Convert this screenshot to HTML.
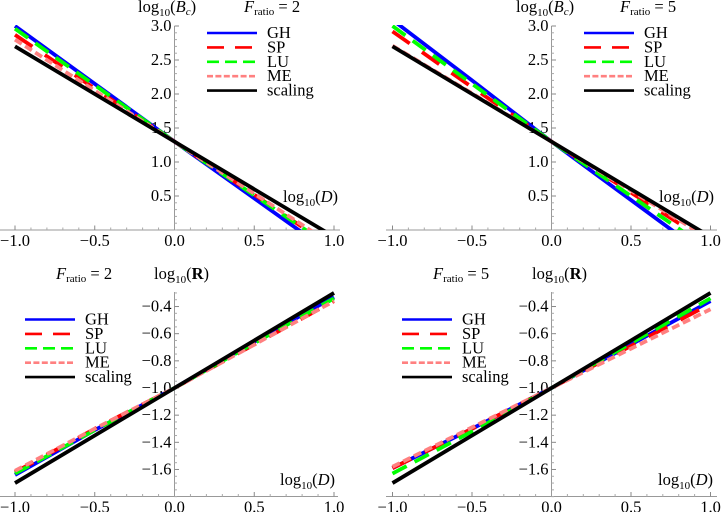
<!DOCTYPE html>
<html>
<head>
<meta charset="utf-8">
<title>Scaling comparison chart</title>
<style>
html,body{margin:0;padding:0;background:#fff;}
svg{display:block;}
text{font-family:"Liberation Serif",serif;font-size:16.5px;fill:#000;}
.sub{font-size:11px;}
.it{font-style:italic;}
.bf{font-weight:bold;}
</style>
</head>
<body>
<svg id="chart" xmlns="http://www.w3.org/2000/svg" width="721" height="512" viewBox="0 0 721 512">
  <g>
    <text x="138" y="12">log<tspan class="sub" dy="4">10</tspan><tspan dy="-4">(</tspan><tspan class="it">B</tspan><tspan class="it sub" dy="3">c</tspan><tspan dy="-3">)</tspan></text>
    <text x="244" y="12"><tspan class="it">F</tspan><tspan class="sub" dy="3">ratio</tspan><tspan dy="-3"> = 2</tspan></text>
    <text x="283" y="202">log<tspan class="sub" dy="4">10</tspan><tspan dy="-4">(</tspan><tspan class="it">D</tspan>)</text>
  </g>
  <g>
    <text x="516" y="12">log<tspan class="sub" dy="4">10</tspan><tspan dy="-4">(</tspan><tspan class="it">B</tspan><tspan class="it sub" dy="3">c</tspan><tspan dy="-3">)</tspan></text>
    <text x="620" y="12"><tspan class="it">F</tspan><tspan class="sub" dy="3">ratio</tspan><tspan dy="-3"> = 5</tspan></text>
    <text x="659" y="202">log<tspan class="sub" dy="4">10</tspan><tspan dy="-4">(</tspan><tspan class="it">D</tspan>)</text>
  </g>
  <g>
    <text x="56" y="279"><tspan class="it">F</tspan><tspan class="sub" dy="3">ratio</tspan><tspan dy="-3"> = 2</tspan></text>
    <text x="154" y="279">log<tspan class="sub" dy="4">10</tspan><tspan dy="-4">(</tspan><tspan class="bf">R</tspan>)</text>
    <text x="280" y="485">log<tspan class="sub" dy="4">10</tspan><tspan dy="-4">(</tspan><tspan class="it">D</tspan>)</text>
  </g>
  <g>
    <text x="433" y="279"><tspan class="it">F</tspan><tspan class="sub" dy="3">ratio</tspan><tspan dy="-3"> = 5</tspan></text>
    <text x="532" y="279">log<tspan class="sub" dy="4">10</tspan><tspan dy="-4">(</tspan><tspan class="bf">R</tspan>)</text>
    <text x="658" y="485">log<tspan class="sub" dy="4">10</tspan><tspan dy="-4">(</tspan><tspan class="it">D</tspan>)</text>
  </g>
</svg>
<script>
// ---- Data ----
var seriesNames = ["GH", "SP", "LU", "ME", "scaling"];
var logD = [-1, -0.5, 0, 0.5, 1];

var panelA_GH = [3.00, 2.15, 1.30, 0.465, -0.37];
var panelA_SP = [2.87, 2.08, 1.30, 0.52, -0.27];
var panelA_LU = [2.96, 2.13, 1.30, 0.51, -0.28];
var panelA_ME = [2.80, 2.05, 1.30, 0.535, -0.23];
var panelA_scaling = [2.70, 2.00, 1.30, 0.60, -0.10];

var panelB_GH = [3.09, 2.20, 1.30, 0.44, -0.42];
var panelB_SP = [2.92, 2.10, 1.30, 0.55, -0.20];
var panelB_LU = [3.00, 2.15, 1.30, 0.50, -0.30];
var panelB_ME = [2.71, 2.01, 1.30, 0.58, -0.14];
var panelB_scaling = [2.70, 2.00, 1.30, 0.60, -0.10];

var panelC_GH = [-1.64, -1.31, -1.00, -0.66, -0.33];
var panelC_SP = [-1.62, -1.30, -1.00, -0.68, -0.36];
var panelC_LU = [-1.63, -1.31, -1.00, -0.67, -0.34];
var panelC_ME = [-1.61, -1.30, -1.00, -0.68, -0.36];
var panelC_scaling = [-1.70, -1.35, -1.00, -0.65, -0.30];

var panelD_GH = [-1.59, -1.30, -1.00, -0.68, -0.36];
var panelD_SP = [-1.59, -1.30, -1.00, -0.69, -0.38];
var panelD_LU = [-1.63, -1.32, -1.00, -0.67, -0.34];
var panelD_ME = [-1.58, -1.29, -1.00, -0.71, -0.42];
var panelD_scaling = [-1.70, -1.35, -1.00, -0.65, -0.30];

var xTickLabels = ["\u22121.0", "\u22120.5", "0.0", "0.5", "1.0"];
var xTickValues = [-1, -0.5, 0, 0.5, 1];
var yTickValuesTop = [0.5, 1, 1.5, 2, 2.5, 3];
var yTickLabelsTop = ["0.5", "1.0", "1.5", "2.0", "2.5", "3.0"];
var yTickValuesBottom = [-1.6, -1.4, -1.2, -1, -0.8, -0.6, -0.4];
var yTickLabelsBottom = ["\u22121.6", "\u22121.4", "\u22121.2", "\u22121.0", "\u22120.8", "\u22120.6", "\u22120.4"];

// ---- Styling and layout ----
var seriesColors = ["#0000ff", "#ff0000", "#00ff00", "#ff8080", "#000000"];
var plotDash = ["", "21 15", "16 9", "8 4", ""];
var legendDash = ["", "17 11", "12 6", "6 2.4", ""];

var NS = "http://www.w3.org/2000/svg";
var svg = document.getElementById("chart");

function make(parent, tag, attrs) {
  var el = document.createElementNS(NS, tag);
  for (var k in attrs) el.setAttribute(k, attrs[k]);
  parent.appendChild(el);
  return el;
}

function drawPanel(id, cfg) {
  var xScale = function (v) { return cfg.x0 + v * cfg.xUnit; };
  var yScale = function (v) { return cfg.yRef + (cfg.refValue - v) * cfg.yUnit; };

  var group = make(svg, "g", {});
  
  

  // clip
  var defs = make(group, "defs", {});
  var clip = make(defs, "clipPath", { id: "clip-" + id });
  make(clip, "rect", { x: cfg.axisLeft, y: cfg.yTop - 1, width: cfg.axisRight - cfg.axisLeft, height: cfg.yBottom - cfg.yTop + 1 });

  // axes
  var axisGroup = make(group, "g", {});
  
  
  var xAxis = make(axisGroup, "line", { x1: cfg.axisLeft, x2: cfg.axisRight, y1: cfg.yBottom, y2: cfg.yBottom, stroke: "#999", "stroke-width": 1 });
  
  
  var yAxis = make(axisGroup, "line", { x1: cfg.x0, x2: cfg.x0, y1: cfg.yTop, y2: cfg.yBottom, stroke: "#999", "stroke-width": 1 });
  
  

  // x ticks
  var i, v, t;
  for (i = -10; i <= 10; i++) {
    var major = i % 5 === 0;
    if (i === 0) continue;
    t = make(axisGroup, "line", { x1: xScale(i / 10), x2: xScale(i / 10), y1: cfg.yBottom, y2: cfg.yBottom - (major ? 4.5 : 2.5), stroke: major ? "#888" : "#aaa", "stroke-width": 1 });
    
    
  }
  xTickValues.forEach(function (val, idx) {
    var lab = make(axisGroup, "text", { x: xScale(val), y: cfg.yBottom + 16, "text-anchor": "middle" });
    
    
    lab.textContent = xTickLabels[idx];
  });

  // y ticks
  for (v = cfg.minorStart; v <= cfg.minorEnd + 1e-6; v += cfg.minorStep) {
    var isMajor = cfg.yValues.some(function (m) { return Math.abs(m - v) < 1e-6; });
    t = make(axisGroup, "line", { x1: cfg.x0, x2: cfg.x0 + (isMajor ? 4.5 : 2.5), y1: yScale(v), y2: yScale(v), stroke: isMajor ? "#888" : "#aaa", "stroke-width": 1 });
    
    
  }
  cfg.yValues.forEach(function (val, idx) {
    var lab = make(axisGroup, "text", { x: cfg.x0 - 3, y: yScale(val) + 5, "text-anchor": "end" });
    
    
    lab.textContent = cfg.yLabels[idx];
  });

  // series
  var seriesGroup = make(group, "g", { "clip-path": "url(#clip-" + id + ")" });
  
  
  cfg.series.forEach(function (vals, idx) {
    var pts = vals.map(function (val, j) { return xScale(logD[j]) + "," + yScale(val); }).join(" ");
    var line = make(seriesGroup, "polyline", { points: pts, fill: "none", stroke: seriesColors[idx], "stroke-width": 3.8, "stroke-linejoin": "round" });
    if (plotDash[idx]) line.setAttribute("stroke-dasharray", plotDash[idx]);
    
    
  });

  // legend
  var legend = make(group, "g", {});
  
  
  seriesNames.forEach(function (name, idx) {
    var y = cfg.legendY + idx * 14.4;
    var entry = make(legend, "g", {});
    
    
    var sw = make(entry, "line", { x1: cfg.legendX, x2: cfg.legendX + 50, y1: y, y2: y, stroke: seriesColors[idx], "stroke-width": 2.6 });
    if (legendDash[idx]) sw.setAttribute("stroke-dasharray", legendDash[idx]);
    
    
    var tx = make(entry, "text", { x: cfg.legendX + 60, y: y + 5 });
    
    
    tx.textContent = name;
  });
}

drawPanel("a", {
  x0: 174.5, xUnit: 159.5, yRef: 230, refValue: 0, yUnit: 68, yTop: 26, yBottom: 230,
  axisLeft: 0, axisRight: 340, minorStart: 0, minorEnd: 3, minorStep: 0.1,
  yValues: yTickValuesTop, yLabels: yTickLabelsTop, legendX: 207, legendY: 33,
  series: [panelA_GH, panelA_SP, panelA_LU, panelA_ME, panelA_scaling]
});
drawPanel("b", {
  x0: 551.5, xUnit: 159, yRef: 230, refValue: 0, yUnit: 68, yTop: 26, yBottom: 230,
  axisLeft: 386, axisRight: 717, minorStart: 0, minorEnd: 3, minorStep: 0.1,
  yValues: yTickValuesTop, yLabels: yTickLabelsTop, legendX: 584, legendY: 33,
  series: [panelB_GH, panelB_SP, panelB_LU, panelB_ME, panelB_scaling]
});
drawPanel("c", {
  x0: 174.5, xUnit: 159.5, yRef: 388, refValue: -1, yUnit: 135.8, yTop: 292, yBottom: 496.5,
  axisLeft: 0, axisRight: 338, minorStart: -1.8, minorEnd: -0.3, minorStep: 0.05,
  yValues: yTickValuesBottom, yLabels: yTickLabelsBottom, legendX: 25, legendY: 319.5,
  series: [panelC_GH, panelC_SP, panelC_LU, panelC_ME, panelC_scaling]
});
drawPanel("d", {
  x0: 551.5, xUnit: 159, yRef: 388, refValue: -1, yUnit: 135.8, yTop: 292, yBottom: 496.5,
  axisLeft: 402 - 16, axisRight: 717, minorStart: -1.8, minorEnd: -0.3, minorStep: 0.05,
  yValues: yTickValuesBottom, yLabels: yTickLabelsBottom, legendX: 402, legendY: 319.5,
  series: [panelD_GH, panelD_SP, panelD_LU, panelD_ME, panelD_scaling]
});
</script>
</body>
</html>
